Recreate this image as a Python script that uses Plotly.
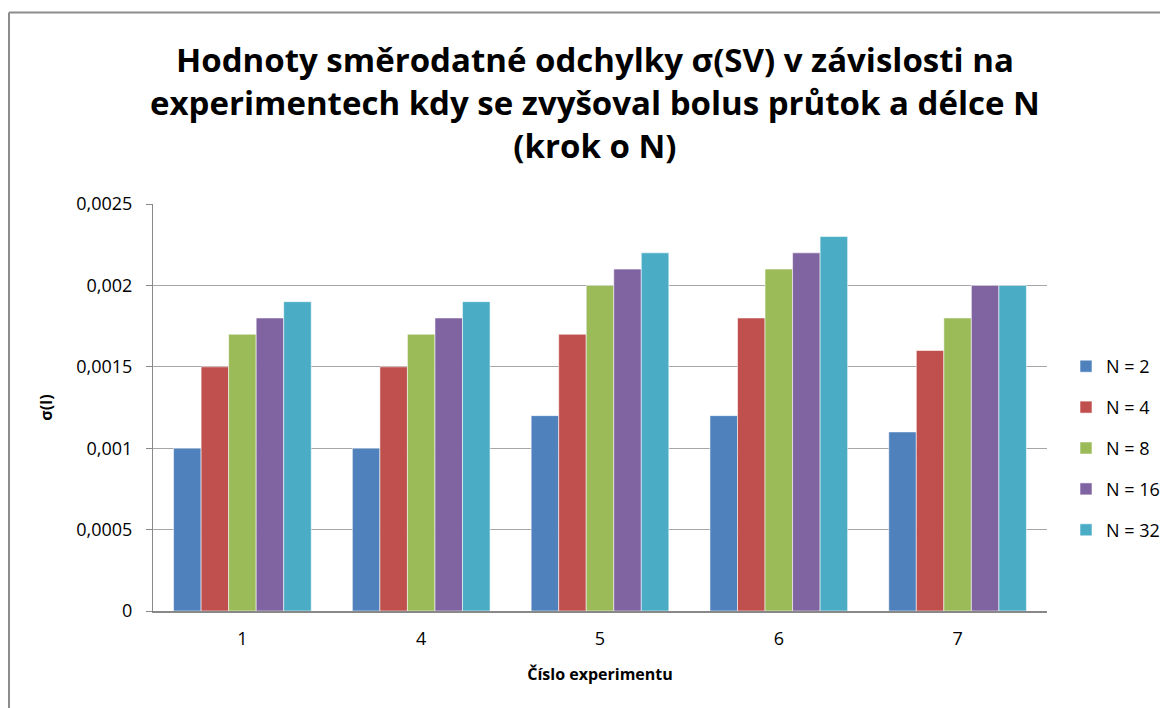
import plotly.graph_objects as go

categories = ["1", "4", "5", "6", "7"]
series_names = ["N = 2", "N = 4", "N = 8", "N = 16", "N = 32"]
n2 = [0.0010, 0.0010, 0.0012, 0.0012, 0.0011]
n4 = [0.0015, 0.0015, 0.0017, 0.0018, 0.0016]
n8 = [0.0017, 0.0017, 0.0020, 0.0021, 0.0018]
n16 = [0.0018, 0.0018, 0.0021, 0.0022, 0.0020]
n32 = [0.0019, 0.0019, 0.0022, 0.0023, 0.0020]
series_values = [n2, n4, n8, n16, n32]
colors = ["#4F81BD", "#C0504D", "#9BBB59", "#8064A2", "#4BACC6"]
y_tickvals = [0, 0.0005, 0.001, 0.0015, 0.002, 0.0025]
y_ticktext = ["0", "0,0005", "0,001", "0,0015", "0,002", "0,0025"]
title_text = ("<b>Hodnoty směrodatné odchylky σ(SV) v závislosti na<br>"
              "experimentech kdy se zvyšoval bolus průtok a délce N<br>(krok o N)</b>")

# page body has an 8px margin: screen px p -> figure px p - 8
OFF = 8
W, H = 1168, 708 - OFF
L = 153 - OFF
T = 204 - OFF
R = W - (1047 - OFF)
B = H - (611 - OFF)
pw, ph = W - L - R, H - T - B

FONT = "Open Sans"

fig = go.Figure()
for i, (name, vals) in enumerate(zip(series_names, series_values)):
    fig.add_trace(go.Bar(
        x=categories, y=vals, name=name, legendgroup=name,
        marker=dict(color=colors[i], line=dict(color="rgba(255,255,255,0.55)", width=1)),
    ))

def cx(p):
    return (p - OFF) / W

def cy(p):
    return 1 - (p - OFF) / H

fig.update_layout(
    width=W, height=H,
    margin=dict(l=L, r=R, t=T, b=B, autoexpand=False),
    paper_bgcolor="white", plot_bgcolor="white",
    font=dict(family=FONT, size=18, color="#000000"),
    barmode="group", bargap=0.23, bargroupgap=0,
    legend=dict(
        xref="container", yref="container",
        x=cx(1066), y=cy(348), xanchor="left", yanchor="top",
        font=dict(family=FONT, size=18), traceorder="grouped",
        tracegroupgap=14.5, itemwidth=30, bgcolor="rgba(0,0,0,0)",
    ),
    showlegend=True,
    xaxis=dict(
        type="category", showgrid=False, showline=True, linecolor="#888888", linewidth=2,
        ticks="", ticklabelstandoff=10, tickfont=dict(family=FONT, size=18),
        title=dict(text="<b>Číslo experimentu</b>", font=dict(family=FONT, size=16), standoff=20),
    ),
    yaxis=dict(
        range=[0, 0.0025], tickvals=y_tickvals, ticktext=y_ticktext,
        showgrid=True, gridcolor="#A6A6A6", gridwidth=1,
        showline=True, linecolor="#888888", linewidth=1,
        ticks="outside", ticklen=6, tickcolor="#888888", ticklabelstandoff=10,
        tickfont=dict(family=FONT, size=18), zeroline=False,
        title=dict(text="<b>σ(I)</b>", font=dict(family=FONT, size=16), standoff=19),
    ),
    annotations=[dict(
        text=title_text, xref="paper", yref="paper",
        x=(595 - 153) / pw, y=1 + (204 - 102) / ph, xanchor="center", yanchor="middle",
        showarrow=False, align="center",
        font=dict(family=FONT, size=33, color="#000000"),
    )],
    shapes=[
        dict(type="line", xref="paper", yref="paper",
             x0=(9 - 153) / pw, x1=(1180 - 153) / pw,
             y0=1 + (204 - 12.5) / ph, y1=1 + (204 - 12.5) / ph,
             line=dict(color="#8C8C8C", width=2)),
        dict(type="line", xref="paper", yref="paper",
             x0=(9 - 153) / pw, x1=(9 - 153) / pw,
             y0=1 + (204 - 12.5) / ph, y1=1 - (708 - 204) / ph,
             line=dict(color="#8C8C8C", width=2)),
    ],
)

fig.write_html("out.html")
